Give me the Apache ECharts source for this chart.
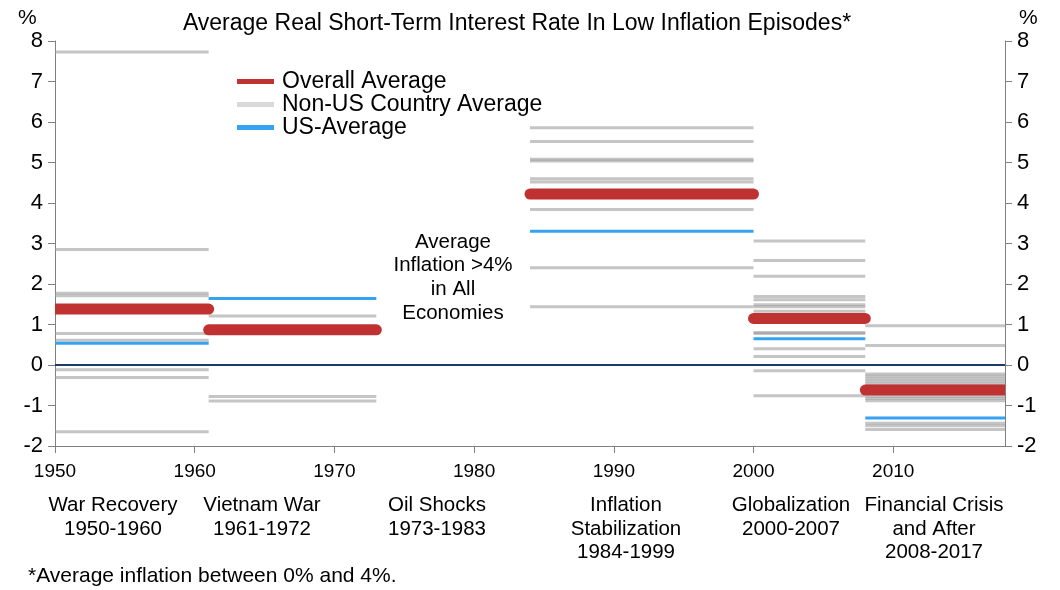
<!DOCTYPE html>
<html>
<head>
<meta charset="utf-8">
<script src="https://cdn.jsdelivr.net/npm/echarts@6.0.0/dist/echarts.min.js"></script>
<style>
  html, body { margin: 0; padding: 0; background: #fff; }
  #chart { width: 1060px; height: 590px; }
</style>
</head>
<body>
<div id="chart"></div>
<script>
(function() {

	// episodes (start year, end year)
	var episodeStart = [1950, 1961, 1984, 2000, 2008];
	var episodeEnd = [1961, 1973, 2000, 2008, 2018];

	// averages per episode, %
	var overallAvg = [1.38, 0.87, 4.22, 1.15, -0.62];
	var usAvg = [0.54, 1.64, 3.30, 0.65, -1.31];

	// non-US country averages per episode, %
	var nonUs = [
		[7.73, 2.85, 1.77, 1.71, 0.78, 0.61, -0.12, -0.31, -1.65],
		[1.21, -0.78, -0.89],
		[5.86, 5.52, 5.08, 5.04, 4.60, 4.52, 3.84, 2.40, 1.44],
		[3.06, 2.58, 2.19, 1.69, 1.61, 1.49, 1.44, 1.33, 0.80, 0.78, 0.40, 0.21, -0.14, -0.76],
		[0.97, 0.48, -0.22, -0.28, -0.34, -0.40, -0.46, -0.52, -0.78, -0.83, -0.88, -1.44, -1.50, -1.59]
	];

	var xTicks = [1950, 1960, 1970, 1980, 1990, 2000, 2010];
	var episodeLabels = [
		"War Recovery\n1950-1960",
		"Vietnam War\n1961-1972",
		"Oil Shocks\n1973-1983",
		"Inflation\nStabilization\n1984-1999",
		"Globalization\n2000-2007",
		"Financial Crisis\nand After\n2008-2017"
	];

	var FONT = "Liberation Sans, Arial, sans-serif";

	function segments(values) {
		var out = [];
		for (var i = 0; i < values.length; i++) {
			out.push([episodeStart[i], episodeEnd[i], values[i]]);
		}
		return out;
	}

	var grayData = [];
	for (var i = 0; i < nonUs.length; i++) {
		for (var j = 0; j < nonUs[i].length; j++) {
			grayData.push([episodeStart[i], episodeEnd[i], nonUs[i][j]]);
		}
	}

	function segItem(width, color, cap) {
		return function(params, api) {
			var a = api.coord([api.value(0), api.value(2)]);
			var b = api.coord([api.value(1), api.value(2)]);
			return {
				type: "line",
				shape: { x1: a[0], y1: a[1], x2: b[0], y2: b[1] },
				style: { stroke: color, lineWidth: width, lineCap: cap }
			};
		};
	}

	var yAxisBase = {
		type: "value",
		min: -2,
		max: 8,
		interval: 1,
		axisLine: { show: true, lineStyle: { color: "#808080", width: 1 } },
		axisTick: { show: true, length: 7, lineStyle: { color: "#808080" } },
		axisLabel: { color: "#000", fontSize: 22, fontFamily: FONT, margin: 12 },
		splitLine: { show: false }
	};

	var option = {
		animation: false,
		backgroundColor: "#fff",
		textStyle: { fontFamily: FONT },
		grid: { left: 55, right: 55, top: 41, bottom: 144 },
		title: {
			text: "Average Real Short-Term Interest Rate In Low Inflation Episodes*",
			left: 512,
			top: 7,
			textAlign: "center",
			textStyle: { fontSize: 23, fontWeight: "normal", color: "#000", fontFamily: FONT }
		},
		legend: {
			orient: "vertical",
			left: 237,
			top: 70,
			padding: 0,
			itemGap: 0,
			itemWidth: 37,
			itemHeight: 5,
			textStyle: { fontSize: 23, color: "#000", fontFamily: FONT, lineHeight: 22.5, padding: [0, 0, 0, 3] },
			data: [
				{ name: "Overall Average", icon: "rect", itemStyle: { color: "#c03232" } },
				{ name: "Non-US Country Average", icon: "rect", itemStyle: { color: "#d9d9d9" } },
				{ name: "US-Average", icon: "rect", itemStyle: { color: "#36a2f2" } }
			]
		},
		xAxis: {
			type: "value",
			min: 1950,
			max: 2018,
			interval: 10,
			axisLine: { show: true, onZero: false, lineStyle: { color: "#808080" } },
			axisTick: { show: true, length: 7, lineStyle: { color: "#808080" } },
			axisLabel: {
				color: "#000",
				fontSize: 19,
				fontFamily: FONT,
				margin: 16,
				showMaxLabel: false,
				formatter: function(v) { return xTicks.indexOf(v) >= 0 ? String(v) : ""; }
			},
			splitLine: { show: false }
		},
		yAxis: [
			Object.assign({}, yAxisBase, { position: "left" }),
			Object.assign({}, yAxisBase, { position: "right" })
		],
		series: [{
			name: "Non-US Country Average",
			type: "custom",
			renderItem: segItem(3, "rgba(150,150,150,0.55)", "butt"),
			itemStyle: { color: "#d9d9d9" },
			encode: { x: [0, 1], y: 2 },
			data: grayData,
			z: 2,
			markLine: {
				silent: true,
				symbol: "none",
				label: { show: false },
				lineStyle: { color: "#1b3a66", width: 2, type: "solid" },
				data: [{ yAxis: 0 }]
			}
		}, {
			name: "US-Average",
			type: "custom",
			renderItem: segItem(3, "#36a2f2", "butt"),
			itemStyle: { color: "#36a2f2" },
			encode: { x: [0, 1], y: 2 },
			data: segments(usAvg),
			z: 3
		}, {
			name: "Overall Average",
			type: "custom",
			renderItem: segItem(11, "#c03232", "round"),
			itemStyle: { color: "#c03232" },
			encode: { x: [0, 1], y: 2 },
			data: segments(overallAvg),
			clip: true,
			z: 4
		}],
		graphic: [{
			type: "text", left: 18, top: 8,
			style: { text: "%", fill: "#000", font: "21px " + FONT }
		}, {
			type: "text", left: 1019, top: 8,
			style: { text: "%", fill: "#000", font: "21px " + FONT }
		}, {
			type: "text", x: 453, y: 230,
			style: { text: "Average\nInflation >4%\nin All\nEconomies", align: "center", font: "20.5px " + FONT, lineHeight: 23.7, fill: "#000" }
		}, {
			type: "text", x: 28, y: 566,
			style: { text: "*Average inflation between 0% and 4%.", font: "21px " + FONT, fill: "#000" }
		}]
	};

	var episodeX = [113, 262, 437, 626, 791, 934];
	for (var k = 0; k < episodeLabels.length; k++) {
		option.graphic.push({
			type: "text", x: episodeX[k], y: 494,
			style: { text: episodeLabels[k], align: "center", font: "20.5px " + FONT, lineHeight: 23.5, fill: "#000" }
		});
	}

	var chart = echarts.init(document.getElementById("chart"), null, { renderer: "canvas" });
	chart.setOption(option);

})();
</script>
</body>
</html>
